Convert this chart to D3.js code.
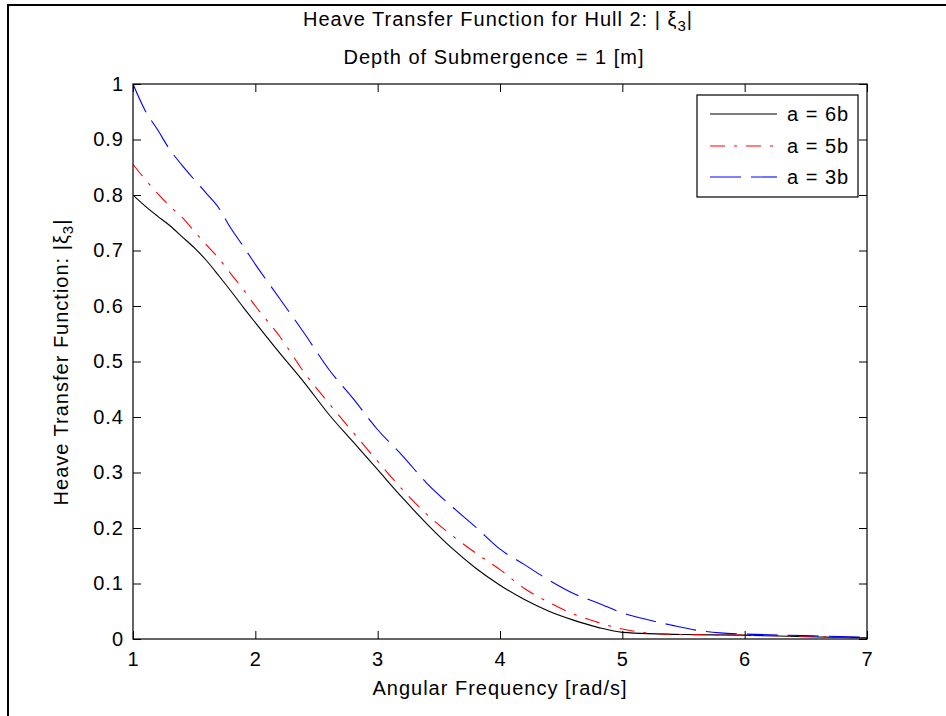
<!DOCTYPE html>
<html><head><meta charset="utf-8">
<script src="https://d3js.org/d3.v7.min.js"></script>
<style>
body{margin:0;background:#fff;}
text{font-family:"Liberation Sans",Arial,sans-serif;fill:#000;letter-spacing:1px;}
</style></head>
<body><svg id="c" width="946" height="716"></svg>
<script>
const xTicks = [1,2,3,4,5,6,7];
const yTicks = [0,0.1,0.2,0.3,0.4,0.5,0.6,0.7,0.8,0.9,1];
const seriesNames = ["a = 6b","a = 5b","a = 3b"];
const freq6b = [1.0,1.1,1.2,1.3,1.4,1.5,1.6,1.7,1.8,1.9,2.0,2.2,2.4,2.6,2.8,3.0,3.2,3.4,3.6,3.8,4.0,4.2,4.4,4.6,4.8,5.0,5.5,6.0,6.5,7.0];
const val6b  = [0.80,0.78,0.762,0.745,0.725,0.705,0.682,0.655,0.627,0.598,0.570,0.515,0.462,0.405,0.355,0.305,0.255,0.208,0.165,0.128,0.097,0.071,0.050,0.034,0.021,0.012,0.008,0.007,0.004,0.002];
const freq5b = [1.0,1.1,1.2,1.3,1.4,1.5,1.6,1.7,1.8,1.9,2.0,2.2,2.4,2.6,2.8,3.0,3.2,3.4,3.6,3.8,4.0,4.2,4.4,4.6,4.8,5.0,5.2,5.5,6.0,6.5,7.0];
const val5b  = [0.855,0.828,0.803,0.780,0.760,0.735,0.710,0.686,0.658,0.630,0.600,0.545,0.480,0.425,0.372,0.320,0.270,0.225,0.188,0.155,0.125,0.091,0.066,0.045,0.030,0.018,0.011,0.008,0.007,0.005,0.002];
const freq3b = [1.0,1.1,1.2,1.3,1.4,1.5,1.6,1.7,1.8,1.9,2.0,2.2,2.4,2.6,2.8,3.0,3.2,3.4,3.6,3.8,4.0,4.2,4.4,4.6,4.8,5.0,5.2,5.4,5.6,5.8,6.0,6.5,7.0];
const val3b  = [1.000,0.952,0.918,0.882,0.854,0.828,0.803,0.777,0.740,0.708,0.675,0.613,0.551,0.486,0.433,0.377,0.331,0.281,0.240,0.202,0.162,0.134,0.106,0.082,0.065,0.047,0.035,0.025,0.016,0.011,0.009,0.006,0.003];

const FS = 20;
const svg = d3.select("#c");
const L=133,R=867,T=84,B=639;
const x = d3.scaleLinear().domain([1,7]).range([L,R]);
const y = d3.scaleLinear().domain([0,1]).range([B,T]);

// outer frame (left/top visible)
svg.append("rect").attr("x",8).attr("y",5).attr("width",960).attr("height",730)
  .attr("fill","none").attr("stroke","#000").attr("stroke-width",2);

const styles = [
  {color:"#000000", dash:null},
  {color:"#ff0000", dash:"15,9,3,9"},
  {color:"#0000ff", dash:"31,10"}
];
const data = [
  d3.zip(freq6b,val6b), d3.zip(freq5b,val5b), d3.zip(freq3b,val3b)
];
const line = d3.line().x(d=>x(d[0])).y(d=>y(d[1])).curve(d3.curveMonotoneX);
svg.append("clipPath").attr("id","pc").append("rect")
  .attr("x",L).attr("y",T-1).attr("width",R-L).attr("height",B-T+2);
const g = svg.append("g").attr("clip-path","url(#pc)");
data.forEach((d,i)=>{
  g.append("path").attr("d",line(d)).attr("fill","none")
   .attr("stroke",styles[i].color).attr("stroke-width",1.1)
   .attr("stroke-dasharray",styles[i].dash);
});

// axes box and ticks
const tl=8;
const axG = svg.append("g");
const xb = d3.axisBottom(x).tickValues(xTicks).tickSizeInner(-tl).tickSizeOuter(0).tickPadding(13).tickFormat(d3.format("d"));
const yl = d3.axisLeft(y).tickValues(yTicks).tickSizeInner(-tl).tickSizeOuter(0).tickPadding(9).tickFormat(d=>d===0?"0":(d===1?"1":d3.format(".1f")(d)));
const xt = d3.axisTop(x).tickValues(xTicks).tickSizeInner(-tl).tickSizeOuter(0).tickFormat("");
const yr = d3.axisRight(y).tickValues(yTicks).tickSizeInner(-tl).tickSizeOuter(0).tickFormat("");
function style(sel){
  sel.selectAll(".domain").remove();
  sel.selectAll("line").attr("stroke","#000");
  sel.selectAll("text").attr("font-family","Liberation Sans, Arial, sans-serif").attr("font-size",FS).attr("fill","#000");
}
axG.append("g").attr("transform",`translate(0,${B})`).call(xb).call(style);
axG.append("g").attr("transform",`translate(${L},0)`).call(yl).call(style);
axG.append("g").attr("transform",`translate(0,${T})`).call(xt).call(style);
axG.append("g").attr("transform",`translate(${R},0)`).call(yr).call(style);
svg.append("rect").attr("x",L).attr("y",T).attr("width",R-L).attr("height",B-T)
  .attr("fill","none").attr("stroke","#000").attr("stroke-width",1.2);

// titles
const t1 = svg.append("text").attr("x",498).attr("y",26).attr("text-anchor","middle").attr("font-size",FS);
t1.append("tspan").text("Heave Transfer Function for Hull 2: | ξ");
t1.append("tspan").attr("font-size",15).attr("dy",5).text("3");
t1.append("tspan").attr("dy",-5).text("|");
svg.append("text").attr("x",494).attr("y",64).attr("text-anchor","middle").attr("font-size",FS)
  .text("Depth of Submergence = 1 [m]");
svg.append("text").attr("x",500).attr("y",695).attr("text-anchor","middle").attr("font-size",FS)
  .text("Angular Frequency [rad/s]");
const yt = svg.append("text").attr("transform","translate(68,362) rotate(-90)").attr("text-anchor","middle").attr("font-size",FS);
yt.append("tspan").text("Heave Transfer Function: |ξ");
yt.append("tspan").attr("font-size",15).attr("dy",5).text("3");
yt.append("tspan").attr("dy",-5).text("|");

// legend
const lg = svg.append("g");
lg.append("rect").attr("x",697).attr("y",95).attr("width",161).attr("height",102)
  .attr("fill","#fff").attr("stroke","#000").attr("stroke-width",1.2);
const rowsY=[114,146,177];
seriesNames.forEach((n,i)=>{
  lg.append("line").attr("x1",710).attr("x2",777).attr("y1",rowsY[i]).attr("y2",rowsY[i])
    .attr("stroke",styles[i].color).attr("stroke-width",1.1).attr("stroke-dasharray",styles[i].dash);
  lg.append("text").attr("x",787).attr("y",rowsY[i]+7).attr("font-size",FS).text(n);
});
</script></body></html>
